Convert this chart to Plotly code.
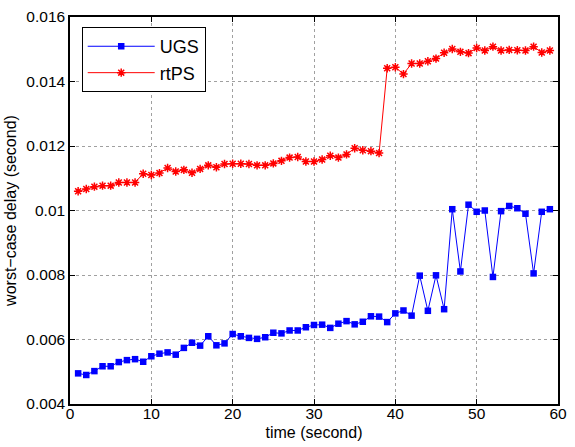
import plotly.graph_objects as go

time_s = list(range(1, 60))

ugs_delay = [0.00495, 0.00490, 0.00502, 0.00517, 0.00517, 0.00530, 0.00536, 0.00539, 0.00531, 0.00548,
             0.00556, 0.00560, 0.00553, 0.00574, 0.00590, 0.00581, 0.00610, 0.00582, 0.00588, 0.00617,
             0.00610, 0.00605, 0.00602, 0.00607, 0.00621, 0.00619, 0.00628, 0.00628, 0.00638, 0.00645,
             0.00646, 0.00636, 0.00649, 0.00657, 0.00647, 0.00655, 0.00672, 0.00671, 0.00654, 0.00681,
             0.00690, 0.00674, 0.00798, 0.00689, 0.00799, 0.00694, 0.01004, 0.00811, 0.01018, 0.00996,
             0.01000, 0.00794, 0.00998, 0.01014, 0.01007, 0.00990, 0.00805, 0.00996, 0.01004]

rtps_delay = [0.010595, 0.010667, 0.01074, 0.01077, 0.01077, 0.01087, 0.01087, 0.01087, 0.01114, 0.01110,
              0.01116, 0.01132, 0.01121, 0.01126, 0.01117, 0.01129, 0.01140, 0.01134, 0.01144, 0.01145,
              0.01145, 0.01144, 0.01140, 0.01140, 0.01146, 0.01154, 0.01164, 0.01166, 0.01152, 0.01152,
              0.01158, 0.01170, 0.01164, 0.01174, 0.01193, 0.01187, 0.01184, 0.01178, 0.01441, 0.01444,
              0.01423, 0.01456, 0.01456, 0.01463, 0.01471, 0.01489, 0.01501, 0.01492, 0.01488, 0.01504,
              0.01496, 0.01508, 0.01496, 0.01498, 0.01497, 0.01496, 0.01508, 0.01490, 0.01496]

x_ticks = [0, 10, 20, 30, 40, 50, 60]
y_ticks = [0.004, 0.006, 0.008, 0.010, 0.012, 0.014, 0.016]
y_tick_labels = ["0.004", "0.006", "0.008", "0.01", "0.012", "0.014", "0.016"]

FONT = "Liberation Sans, Arial, sans-serif"

fig = go.Figure()
fig.add_trace(go.Scatter(
    x=time_s, y=ugs_delay, name="UGS", mode="lines+markers",
    line=dict(color="#0000ff", width=1),
    marker=dict(symbol="square", size=6.5, color="#0000ff"),
))
fig.add_trace(go.Scatter(
    x=time_s, y=rtps_delay, name="rtPS", mode="lines+markers",
    line=dict(color="#ff0000", width=1),
    marker=dict(symbol="asterisk-open", size=7, color="#ff0000", line=dict(color="#ff0000", width=1.5)),
))

axis_common = dict(
    showline=True, linecolor="black", linewidth=1.5, mirror="ticks",
    ticks="inside", ticklen=5, tickcolor="black",
    showgrid=True, gridcolor="#a0a0a0", griddash="dot", gridwidth=1,
    zeroline=False,
    tickfont=dict(family=FONT, size=15.5, color="black"),
)

fig.update_xaxes(range=[0, 60], tickvals=x_ticks, ticklabelstandoff=-5,
                 title=dict(text="time (second)", standoff=5,
                            font=dict(family=FONT, size=16, color="black")),
                 **axis_common)
fig.update_yaxes(range=[0.004, 0.016], tickvals=y_ticks, ticktext=y_tick_labels,
                 title=dict(text="worst\u2212case delay (second)", standoff=6,
                            font=dict(family=FONT, size=16, color="black")),
                 **axis_common)

fig.update_layout(
    width=575, height=447,
    margin=dict(l=70, r=8, t=14, b=42),
    plot_bgcolor="white", paper_bgcolor="white",
    font=dict(family=FONT, color="black"),
    legend=dict(x=0.024, y=0.974, xanchor="left", yanchor="top",
                bgcolor="white", bordercolor="black", borderwidth=1,
                font=dict(size=18), itemwidth=67, tracegroupgap=0),
)

fig.write_html("out.html")
